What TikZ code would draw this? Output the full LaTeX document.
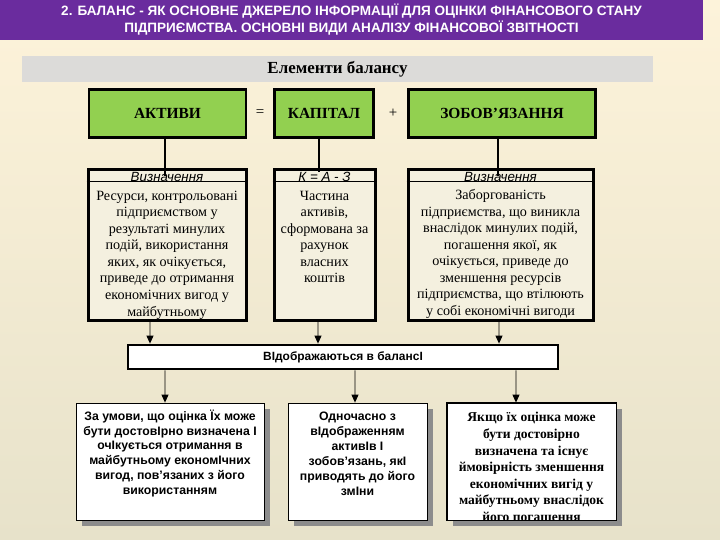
\documentclass[tikz,border=0pt]{standalone}
\usepackage{fontspec}
\setmainfont{Liberation Serif}
\setsansfont{Liberation Sans}
\usetikzlibrary{arrows.meta,positioning,shadows}

\definecolor{titlepurple}{HTML}{6A2C9E}
\definecolor{bgtop}{HTML}{FDF3DA}
\definecolor{bgbot}{HTML}{E7E2CA}
\definecolor{bandgray}{HTML}{DCDBD9}
\definecolor{boxgreen}{HTML}{92D050}
\definecolor{defcream}{HTML}{F4F0DF}

\begin{document}
\begin{tikzpicture}[
    x=1bp, y=-1bp,
    >=Latex,
    green box/.style={draw=black,line width=2.4bp,fill=boxgreen,minimum height=48bp,inner sep=0pt,
      font=\fontsize{15.5}{17}\selectfont\bfseries},
    def box/.style={draw=black,line width=3bp,fill=defcream,minimum height=150bp,inner sep=0pt},
    def head/.style={inner sep=0pt,font=\sffamily\itshape\fontsize{13.4}{14}\selectfont},
    def text/.style={align=center,inner sep=0pt,font=\fontsize{14.2}{16.6}\selectfont},
    bot box/.style={draw=black,line width=0.8bp,fill=white,minimum height=117bp,inner sep=0pt,
      drop shadow={shadow xshift=6bp,shadow yshift=-6bp,fill=black!45,opacity=1}},
    bot text/.style={align=center,inner sep=0pt,font=\sffamily\bfseries\fontsize{12.3}{15}\selectfont},
    link/.style={line width=2.4bp},
    arr/.style={-{Triangle[length=8bp,width=7bp]},line width=0.9bp}
  ]
    \useasboundingbox (0,0) rectangle (720,540);
    \shade[top color=bgtop,bottom color=bgbot] (0,0) rectangle (720,540);

    % Title
    \node[fill=titlepurple,minimum width=703bp,minimum height=40bp,inner sep=0pt,align=center,
      text=white,font=\sffamily\bfseries\fontsize{13.6}{17}\selectfont] (title) at (351.5,20)
      {2. БАЛАНС - ЯК ОСНОВНЕ ДЖЕРЕЛО ІНФОРМАЦІЇ ДЛЯ ОЦІНКИ ФІНАНСОВОГО СТАНУ\\
       ПІДПРИЄМСТВА. ОСНОВНІ ВИДИ АНАЛІЗУ ФІНАНСОВОЇ ЗВІТНОСТІ};

    \node[fill=bandgray,minimum width=631bp,minimum height=26bp,inner sep=0pt,
      font=\fontsize{17}{18}\selectfont\bfseries] (band) at (337.5,69) {Елементи балансу};

    % Balance equation
    \node[green box,minimum width=157bp] (aktyvy) at (167.5,113.5) {АКТИВИ};
    \node[font=\fontsize{15}{16}\selectfont] (eq) at (260,113.5) {=};
    \node[green box,minimum width=99bp] (kapital) at (324,113.5) {КАПІТАЛ};
    \node[font=\fontsize{15}{16}\selectfont] (plus) at (393,113.5) {+};
    \node[green box,minimum width=187bp] (zobov) at (502,113.5) {ЗОБОВ’ЯЗАННЯ};

    % Definitions
    \node[def box,minimum width=158bp] (defA) at (167,245) {};
    \node[def box,minimum width=101bp] (defK) at (324.5,245) {};
    \node[def box,minimum width=185bp] (defZ) at (500.5,245) {};
    \foreach \d in {defA,defK,defZ}
      \draw[line width=1.6bp] ([yshift=-13bp]\d.north west) -- ([yshift=-13bp]\d.north east);

    \node[def head] (headA) at (167,176.5) {Визначення};
    \node[def head] (headK) at (324.5,176.5) {К = А - З};
    \node[def head] (headZ) at (500.5,176.5) {Визначення};

    \node[def text] (textA) at (167,255) {Ресурси, контрольовані\\підприємством у\\результаті минулих\\
      подій, використання\\яких, як очікується,\\приведе до отримання\\економічних вигод у\\майбутньому};
    \node[def text] (textK) at (324.5,237) {Частина\\активів,\\сформована за\\рахунок\\власних\\коштів};
    \node[def text] (textZ) at (500.5,254) {Заборгованість\\підприємства, що виникла\\внаслідок минулих подій,\\
      погашення якої, як\\очікується, приведе до\\зменшення ресурсів\\підприємства, що втілюють\\у собі економічні вигоди};

    \draw[link] ([xshift=-2.5bp]aktyvy.south) -- ([xshift=-2.5bp]aktyvy.south |- headA.east);
    \draw[link] ([xshift=-5bp]kapital.south) -- ([xshift=-5bp]kapital.south |- headK.north);
    \draw[link] ([xshift=-4bp]zobov.south) -- ([xshift=-4bp]zobov.south |- headZ.east);

    % Reflected in the balance
    \node[draw=black,line width=2.8bp,fill=white,minimum width=430bp,minimum height=24bp,inner sep=0pt,
      font=\sffamily\bfseries\fontsize{12}{14}\selectfont] (bar) at (343,357) {ВІдображаються в балансІ};

    \draw[arr] ([xshift=-17bp]defA.south) -- ([xshift=-193bp]bar.north);
    \draw[arr] ([xshift=-6.5bp]defK.south) -- ([xshift=-25bp]bar.north);
    \draw[arr] ([xshift=-1.5bp]defZ.south) -- ([xshift=156bp]bar.north);

    % Recognition conditions
    \node[bot box,minimum width=188bp] (botA) at (170,461.5) {};
    \node[bot box,minimum width=139bp] (botB) at (357.5,461.5) {};
    \node[bot box,minimum width=169bp] (botC) at (531.5,461.5) {};

    \node[bot text] (condA) at (170,453.5) {За умови, що оцінка Їх може\\бути достовІрно визначена І\\
      очІкується отримання в\\майбутньому економІчних\\вигод, пов’язаних з його\\використанням};
    \node[bot text] (condB) at (357.5,453.5) {Одночасно з\\вІдображенням\\активІв І\\
      зобов’язань, якІ\\приводять до його\\змІни};
    \begin{scope}
      \clip (botC.north west) rectangle (botC.south east);
      \node[align=center,inner sep=0pt,font=\bfseries\fontsize{13.6}{16.7}\selectfont] (condC) at (531.5,467)
        {Якщо їх оцінка може\\бути достовірно\\визначена та існує\\ймовірність зменшення\\
         економічних вигід у\\майбутньому внаслідок\\його погашення};
    \end{scope}
    \draw[line width=0.8bp] (botC.north west) rectangle (botC.south east);

    \draw[arr] ([xshift=-178bp]bar.south) -- ([xshift=-5bp]botA.north);
    \draw[arr] ([xshift=12bp]bar.south) -- ([xshift=-2.5bp]botB.north);
    \draw[arr] ([xshift=173bp]bar.south) -- ([xshift=-15.5bp]botC.north);
\end{tikzpicture}
\end{document}
